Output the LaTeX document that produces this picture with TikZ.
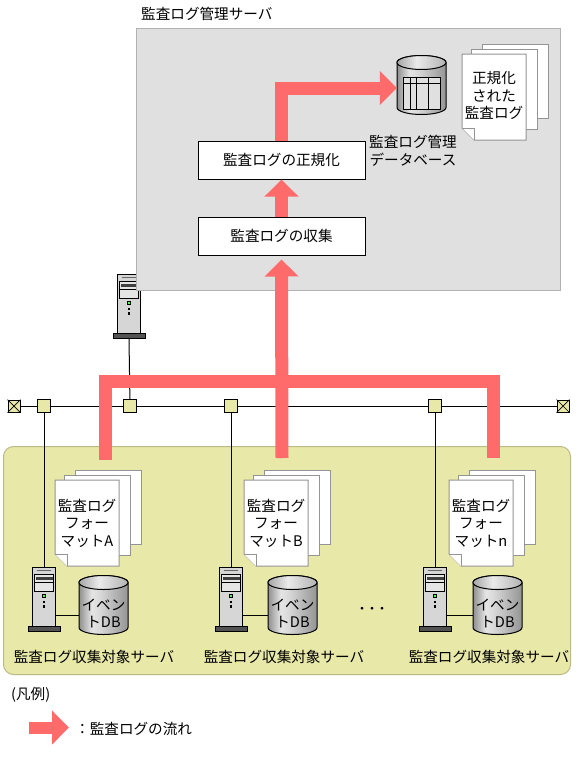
\documentclass[tikz,border=0pt]{standalone}
\usepackage{fontspec}
\setmainfont{Noto Sans CJK JP}
\usetikzlibrary{arrows.meta}
\definecolor{flowred}{HTML}{FF6B6B}
\definecolor{panelgray}{HTML}{E0E0E0}
\definecolor{panelgreen}{HTML}{E8E8A8}
\pgfdeclarehorizontalshading{dbshade}{100bp}{color(0bp)=(black!44);color(25bp)=(black!44);color(38bp)=(black!10);color(46bp)=(black!15);color(75bp)=(black!42);color(100bp)=(black!42)}
\pgfdeclarehorizontalshading{dbtopshade}{100bp}{color(0bp)=(black!35);color(25bp)=(black!35);color(45bp)=(black!8);color(75bp)=(black!30);color(100bp)=(black!30)}
\tikzset{
  txt/.style={font=\fontsize{14.6}{17.5}\selectfont,inner sep=0pt,align=center},
  flow/.style={draw=flowred,line width=13pt,-{Triangle[length=17pt,width=33pt]}},
  flowbar/.style={draw=flowred,line width=13pt},
  stepbox/.style={draw,fill=white,line width=1pt,minimum width=167pt,minimum height=38pt,inner sep=0pt,font=\fontsize{14.6}{17.5}\selectfont},
  tap/.style={draw,fill=panelgreen,line width=1pt,minimum size=13pt,inner sep=0pt},
  termbox/.style={draw,fill=panelgreen,line width=1pt,minimum size=12pt,inner sep=0pt},
  page/.style={draw=black!42,fill=white,line width=1pt},
  pics/serverbox/.style={code={
    \node[draw,fill=black!16,line width=1.2pt,minimum width=23pt,minimum height=59pt,inner sep=0pt] (-body) at (11.5,29.5) {};
    \node[draw,fill=black!68,line width=1pt,minimum width=32pt,minimum height=5pt,inner sep=0pt] (-base) at (11.5,61.5) {};
    \draw[black!60,line width=1pt] (4,3) -- (18,3);
    \draw[fill=black!10,line width=1pt] (2,7) rectangle (21,24);
    \draw[line width=1pt] (2,15) -- (21,15);
    \fill[black!75] (3,9) rectangle (20,12);
    \draw[fill=green!70!white,line width=.8pt] (9.5,27) rectangle (12.5,30);
    \fill (10,33) rectangle (12.5,35.5);
    \fill (10,37.5) rectangle (12.5,40);
  }},
  pics/dbcyl/.style={code={
    \node[minimum width=49pt,minimum height=59pt,inner sep=0pt] (-body) at (0,0) {};
    \draw[line width=1pt,shading=dbshade] (-24.5,-22.5) -- (-24.5,22.5) arc[start angle=180,end angle=360,x radius=24.5pt,y radius=7pt] -- (24.5,-22.5) arc[start angle=0,end angle=180,x radius=24.5pt,y radius=7pt] -- cycle;
    \draw[line width=1pt,shading=dbtopshade] (0,-22.5) ellipse[x radius=24.5pt,y radius=7pt];
  }},
  pics/pagestack/.style={code={
    \draw[page] (20,-10) rectangle (86,64);
    \draw[page] (9,-5) rectangle (75,75);
    \draw[page] (0,0) -- (64,0) -- (64,86) -- (12,86) -- (0,74) -- cycle;
    \draw[page] (0,74) -- (12,74) -- (12,86);
  }},
}
\begin{document}
\begin{tikzpicture}[x=1pt,y=-1pt]
\useasboundingbox (0,0) rectangle (588,766);
% server beside the panel, the panel covers its corner
\pic (mgr) at (117.5,274.5) {serverbox};
\draw[draw=black!30,fill=panelgray,line width=1pt] (136.5,28.5) rectangle (560.5,290.5);
\draw[draw=panelgreen!80!black,fill=panelgreen,line width=1pt,rounded corners=10pt] (3.5,446.5) rectangle (570.5,674.5);
\node[txt,anchor=west] (title) at (141,14) {監査ログ管理サーバ};

\node[stepbox] (norm) at (281.5,160) {監査ログの正規化};
\node[stepbox] (collect) at (281.5,236) {監査ログの収集};
\pic (mgrdb) at (421.5,85) {dbcyl};
\draw[line width=1pt,fill=black!12] (403,77) rectangle (440,109);
\draw[line width=1pt] (403,83) -- (440,83) (410,77) -- (410,109) (416,77) -- (416,109) (428,77) -- (428,109);
\pic at (462,54) {pagestack};
\node[txt] (normlog) at (494,95.5) {正規化\\された\\監査ログ};
\node[txt,anchor=north west] (mgrdblabel) at (369,135) {監査ログ管理\\データベース};

% bus
\node[termbox] (terml) at (14,406) {};
\node[termbox] (termr) at (563,406) {};
\draw[line width=.7pt] (terml.north west) -- (terml.south east) (terml.north east) -- (terml.south west);
\draw[line width=.7pt] (termr.north west) -- (termr.south east) (termr.north east) -- (termr.south west);
\draw[line width=1pt] (terml) -- (termr);
\node[tap] (tapmgr) at (130,406) {};
\draw[line width=1pt] (mgr-base.south) -- (tapmgr);

\foreach \tg/\tx/\srvx/\dbx/\pgx/\lblx/\fmt in {a/44/32.5/103.5/55/94/A, b/231/219.5/292.5/244/284/B, n/435/423.5/497.5/449/489/n}{
  \node[tap] (tap\tg) at (\tx,406) {};
  \pic (srv\tg) at (\srvx,567.5) {serverbox};
  \draw[line width=1pt] (tap\tg) -- (srv\tg-body.north);
  \pic (db\tg) at (\dbx,605) {dbcyl};
  \node[txt] (dbtxt\tg) at (\dbx,613.5) {イベン\\トDB};
  \draw[line width=1pt] ([yshift=-18pt]srv\tg-body.east) -- ([yshift=-10pt]db\tg-body.west);
  \pic at (\pgx,480) {pagestack};
  \node[txt] (fmt\tg) at (\pgx+32,523) {監査ログ\\フォー\\マット\fmt};
  \node[txt] (lbl\tg) at (\lblx,657) {監査ログ収集対象サーバ};
}
\node[font=\bfseries\fontsize{10}{12}\selectfont,inner sep=0pt] (more) at (372,610) {・・・};

% flow of the logs
\coordinate (src) at (282,458);
\coordinate (srca) at (105,460);
\coordinate (srcn) at (493.5,458);
\coordinate (joinl) at (105,381);
\coordinate (joinr) at (493.5,381);
\draw[flowbar] (srca) -- (joinl) -- (joinr) -- (srcn);
\draw[flow] (src) -- ([yshift=-4pt]collect.south);
\draw[flow] (collect.north) -- (norm.south);
\draw[flow] (norm.north) |- ([yshift=-3pt]mgrdb-body.west);

% legend
\node[txt,anchor=west] (legend) at (11,695) {(凡例)};
\coordinate (legs) at (29,727.5);
\coordinate (lege) at (69,727.5);
\draw[flow,line width=12pt] (legs) -- (lege);
\node[txt,anchor=west] (legtxt) at (75,729) {：監査ログの流れ};
\end{tikzpicture}
\end{document}
